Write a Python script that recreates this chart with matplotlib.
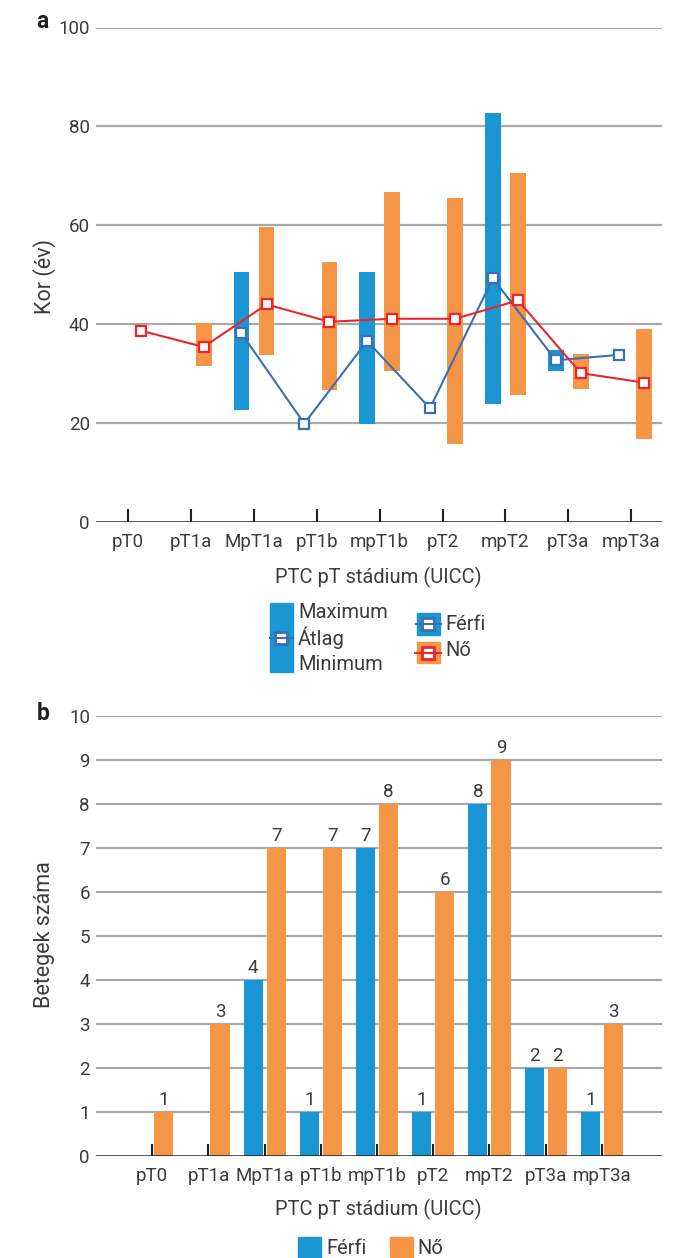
import numpy as np
import matplotlib
matplotlib.use("Agg")
import matplotlib.pyplot as plt
from matplotlib.patches import Rectangle

plt.rcParams['font.family'] = ['Roboto', 'DejaVu Sans']

categories = ['pT0', 'pT1a', 'MpT1a', 'pT1b', 'mpT1b', 'pT2', 'mpT2', 'pT3a', 'mpT3a']
nan = np.nan
# age (years) per stage: min / max / mean
male_min = [nan, nan, 22.6, 19.9, 19.8, 23.0, 23.8, 30.6, 33.8]
male_max = [nan, nan, 50.6, 19.9, 50.6, 23.0, 82.7, 34.8, 33.8]
male_mean = [nan, nan, 38.2, 19.9, 36.6, 23.0, 49.3, 32.7, 33.8]
female_min = [38.7, 31.6, 33.7, 26.6, 30.6, 15.7, 25.6, 26.8, 16.7]
female_max = [38.7, 40.3, 59.7, 52.6, 66.7, 65.5, 70.6, 34.0, 39.1]
female_mean = [38.7, 35.4, 44.0, 40.5, 41.1, 41.1, 44.8, 30.1, 28.2]
# patient counts
male_n = [0, 0, 4, 1, 7, 1, 8, 2, 1]
female_n = [1, 3, 7, 7, 8, 6, 9, 2, 3]

BLUE = '#1a96d4'
ORANGE = '#f49646'
BLUE_LINE = '#3a6fb7'
RED = '#e8262b'
DARK = '#231f20'
GRID = '#a8a9ad'
TXT = '#3c3c3c'
FS = 13.5      # ticks, bar labels
FS_LAB = 14.5  # x labels, legends
FS_Y = 15.5    # y labels

W, H = 694, 1258
fig = plt.figure(figsize=(W / 100, H / 100), dpi=100)


def fx(px):
    return px / W


def fy(py):
    return 1 - py / H


def style_axes(ax, yticks):
    for s in ax.spines.values():
        s.set_visible(False)
    ax.set_yticks(yticks)
    for t in yticks[1:]:
        ax.axhline(t, color=GRID, lw=1.6, zorder=0)
    ax.axhline(0, color=DARK, lw=1.8, zorder=4)
    ax.tick_params(axis='y', length=0, pad=4, labelsize=FS, labelcolor=TXT)
    ax.tick_params(axis='x', direction='in', length=9.5, width=1.5, color=DARK,
                   pad=8, labelsize=FS, labelcolor=TXT)
    ax.set_axisbelow(False)


x = np.arange(len(categories))

# ---- a: age ranges
ax1 = fig.add_axes([fx(95.5), fy(522), (662 - 95.5) / W, (522 - 27.5) / H])
mmin, mmax = np.array(male_min), np.array(male_max)
fmin, fmax = np.array(female_min), np.array(female_max)
ax1.bar(x - 0.2, mmax - mmin, bottom=mmin, width=0.25, color=BLUE, zorder=1)
ax1.bar(x + 0.2, fmax - fmin, bottom=fmin, width=0.25, color=ORANGE, zorder=1)
ax1.plot(x - 0.2, male_mean, color=BLUE_LINE, lw=1.5, marker='s', ms=7,
         mfc='white', mec=BLUE_LINE, mew=1.6, zorder=5)
ax1.plot(x + 0.2, female_mean, color=RED, lw=1.5, marker='s', ms=7,
         mfc='white', mec=RED, mew=1.6, zorder=5)
ax1.set_xlim(-0.52, 8.49)
ax1.set_ylim(0, 100)
ax1.set_xticks(x)
ax1.set_xticklabels(categories)
style_axes(ax1, [0, 20, 40, 60, 80, 100])

# ---- b: counts
ax2 = fig.add_axes([fx(95.5), fy(1156), (662 - 95.5) / W, (1156 - 716) / H])
b1 = ax2.bar(x - 0.205, male_n, width=0.34, color=BLUE, zorder=1)
b2 = ax2.bar(x + 0.205, female_n, width=0.34, color=ORANGE, zorder=1)
ax2.bar_label(b1, labels=['' if v == 0 else str(v) for v in male_n],
              padding=2, fontsize=FS, color=TXT)
ax2.bar_label(b2, labels=['' if v == 0 else str(v) for v in female_n],
              padding=2, fontsize=FS, color=TXT)
ax2.set_xlim(-1.01, 9.07)
ax2.set_ylim(0, 10)
ax2.set_xticks(x)
ax2.set_xticklabels(categories)
style_axes(ax2, list(range(0, 11)))
ax2.tick_params(axis='x', length=9)

# ---- texts and legends (overlay in pixel coords)
ov = fig.add_axes([0, 0, 1, 1])
ov.set_xlim(0, W)
ov.set_ylim(H, 0)
ov.axis('off')

ov.text(42, 22, 'a', fontsize=16.5, fontweight='bold', color=DARK, ha='center', va='center')
ov.text(43, 714, 'b', fontsize=16.5, fontweight='bold', color=DARK, ha='center', va='center')
ov.text(45, 277, 'Kor (év)', fontsize=FS_Y, color=TXT, rotation=90, ha='center', va='center')
ov.text(45, 935, 'Betegek száma', fontsize=FS_Y, color=TXT, rotation=90, ha='center', va='center')
ov.text(378, 577, 'PTC pT stádium (UICC)', fontsize=FS_LAB, color=TXT, ha='center', va='center')
ov.text(378, 1209, 'PTC pT stádium (UICC)', fontsize=FS_LAB, color=TXT, ha='center', va='center')

# legend a
ov.add_patch(Rectangle((270, 603), 23, 69, color=BLUE))
ov.plot([281.5], [637.5], marker='s', ms=8.5, mfc='white', mec=BLUE_LINE, mew=2)
ov.plot([270, 293], [637.5, 637.5], color=BLUE_LINE, lw=1.5)
ov.text(298, 612, 'Maximum', fontsize=FS_LAB, color=TXT, va='center')
ov.text(298, 638, 'Átlag', fontsize=FS_LAB, color=TXT, va='center')
ov.text(298, 665, 'Minimum', fontsize=FS_LAB, color=TXT, va='center')

ov.add_patch(Rectangle((417, 613), 23, 22, color=BLUE))
ov.plot([428.5], [624], marker='s', ms=8.5, mfc='white', mec=BLUE_LINE, mew=2)
ov.plot([416, 441], [624, 624], color=BLUE_LINE, lw=1.5)
ov.text(445, 624, 'Férfi', fontsize=FS_LAB, color=TXT, va='center')
ov.add_patch(Rectangle((417, 642), 23, 21, color=ORANGE))
ov.plot([428.5], [652.5], marker='s', ms=8.5, mfc='white', mec=RED, mew=2)
ov.plot([415, 441], [652.5, 652.5], color=RED, lw=1.5)
ov.text(445, 651, 'Nő', fontsize=FS_LAB, color=TXT, va='center')

# legend b
ov.add_patch(Rectangle((298, 1237), 23, 23, color=BLUE))
ov.text(326, 1249, 'Férfi', fontsize=FS_LAB, color=TXT, va='center')
ov.add_patch(Rectangle((390, 1237), 23, 23, color=ORANGE))
ov.text(417, 1249, 'Nő', fontsize=FS_LAB, color=TXT, va='center')

fig.savefig('out.png', dpi=100)
